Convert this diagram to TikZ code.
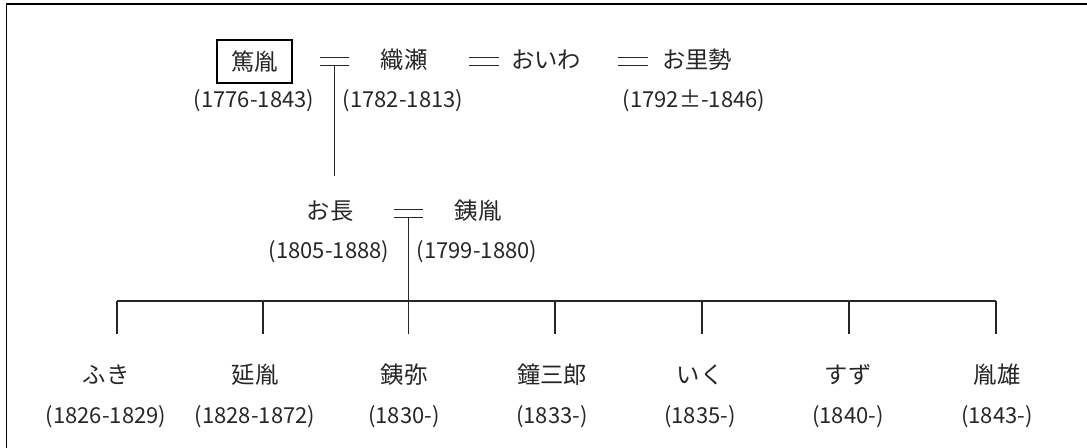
\documentclass[tikz,border=0pt]{standalone}
\usepackage{fontspec}
\setmainfont{Noto Sans CJK JP}

\begin{document}
\begin{tikzpicture}[x=0.75pt,y=-0.75pt,
    person/.style={font=\fontsize{17.5}{20}\selectfont, inner sep=0pt, text=black!85},
    years/.style={font=\fontsize{16.5}{20}\selectfont, inner sep=0pt, text=black!85},
    wed/.style={inner sep=0pt, minimum width=21.75pt, minimum height=6pt},
    line/.style={line width=0.9pt, draw=black!85}]
    \useasboundingbox (0,0) rectangle (1087,447);
    \draw [line width=1pt] (1100,4) -- (6.5,4) -- (6.5,460);
    % first generation
    \node [person, draw, line width=1.5pt, minimum width=56pt, minimum height=32pt] (atsutane) at (254.5,61.5) {篤胤};
    \node [person] (orise) at (404,60) {織瀬};
    \node [person] (oiwa) at (546,60) {おいわ};
    \node [person] (orise2) at (697,60) {お里勢};
    \node [years] (atsutaneY) at (254,101) {(1776-1843)};
    \node [years] (oriseY) at (403,101) {(1782-1813)};
    \node [years] (orise2Y) at (694,101) {(1792±-1846)};
    \node [wed] (w1) at (334.5,61.5) {};
    \node [wed] (w2) at (484,61.5) {};
    \node [wed] (w3) at (633,61.5) {};
    \foreach \w in {w1,w2,w3}
        \draw [line] (\w.north west) -- (\w.north east) (\w.south west) -- (\w.south east);
    \coordinate (c1) at (334.5,176);
    \draw [line] (w1.south) -- (c1);
    % second generation
    \node [person] (ocho) at (330,211) {お長};
    \node [person] (kanetane) at (478,211) {銕胤};
    \node [years] (ochoY) at (329,252) {(1805-1888)};
    \node [years] (kanetaneY) at (477,252) {(1799-1880)};
    \node [wed] (w4) at (408.5,213.5) {};
    \draw [line] (w4.north west) -- (w4.north east) (w4.south west) -- (w4.south east);
    % children
    \foreach \dx/\lx/\nm/\yr [count=\i] in {117/106/ふき/{(1826-1829)}, 263/255/延胤/{(1828-1872)},
        408.5/404/銕弥/{(1830-)}, 555/552/鐘三郎/{(1833-)}, 702/700/いく/{(1835-)},
        849/848/すず/{(1840-)}, 996/997/胤雄/{(1843-)}} {
        \coordinate (d\i) at (\dx,301);
        \coordinate (t\i) at (\dx,334);
        \node [person] (c\i) at (\lx,375) {\nm};
        \node [years] (cy\i) at (\lx,417) {\yr};
        \draw [line] (d\i) -- (t\i);
    }
    \draw [line] (d1) -- (d7);
    \draw [line] (w4.south) -- (d3);
\end{tikzpicture}
\end{document}
